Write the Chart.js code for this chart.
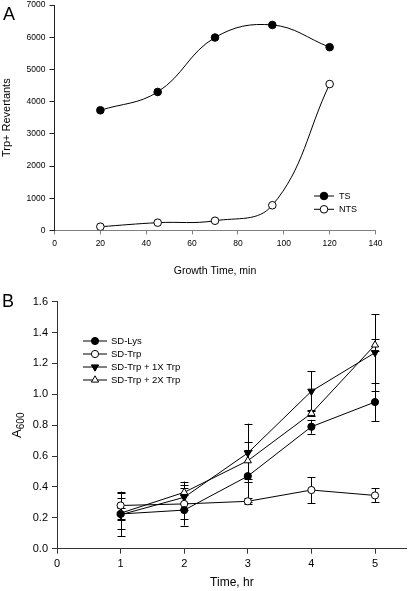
<!DOCTYPE html>
<html><head><meta charset="utf-8">
<script src="https://cdn.jsdelivr.net/npm/chart.js@4/dist/chart.umd.min.js"></script>
<style>
html,body{margin:0;padding:0;background:#fff;overflow:hidden}
#wrap{position:relative;width:412px;height:591px;background:#fff}
canvas{position:absolute;left:0}
#cA{top:0}
#cB{top:290px}
</style></head><body>
<div id="wrap"><canvas id="cA" width="412" height="290"></canvas><canvas id="cB" width="412" height="301"></canvas></div>
<script>
// ---------- Panel A data ----------
const growthTimes = [20, 45, 70, 95, 120];
const tsRevertants = [3730, 4300, 5990, 6380, 5690];
const ntsRevertants = [115, 240, 300, 780, 4545];

// ---------- Panel B data ----------
const timesHr = [1, 2, 3, 4, 5];
const sdLys = [0.225, 0.25, 0.47, 0.79, 0.95];
const sdLysErr = [0.04, 0.10, 0.17, 0.045, 0.125];
const sdTrp = [0.28, 0.29, 0.307, 0.38, 0.345];
const sdTrpErr = [0.09, 0.10, 0.02, 0.084, 0.045];
const sdTrp1x = [0.22, 0.333, 0.62, 1.02, 1.27];
const sdTrp1xErr = [0.14, 0.08, 0.19, 0.13, 0.25];
const sdTrp2x = [0.23, 0.365, 0.57, 0.877, 1.32];
const sdTrp2xErr = [0.10, 0.07, 0.12, 0.02, 0.04];

const FONT = "'Liberation Sans', Arial, sans-serif";
Chart.defaults.font.family = FONT;
Chart.defaults.font.weight = 'normal';
Chart.defaults.color = '#000';
Chart.defaults.animation = false;

function pts(xs, ys) { return xs.map((x, i) => ({x: x, y: ys[i]})); }

function drawMarker(ctx, ds, x, y) {
  ctx.save();
  ctx.fillStyle = ds.pointBackgroundColor;
  ctx.strokeStyle = ds.pointBorderColor;
  ctx.lineWidth = ds.pointBorderWidth;
  const opts = {pointStyle: ds.pointStyle, radius: ds.pointRadius, rotation: ds.pointRotation || 0, borderWidth: ds.pointBorderWidth};
  if (Chart.helpers && Chart.helpers.drawPoint) {
    Chart.helpers.drawPoint(ctx, opts, x, y);
  } else {
    ctx.beginPath(); ctx.arc(x, y, ds.pointRadius, 0, Math.PI * 2); ctx.fill(); ctx.stroke();
  }
  ctx.restore();
}

// legend with line + marker
const lineLegend = {
  id: 'lineLegend',
  afterDraw(chart, args, o) {
    if (!o || !o.display) return;
    const ctx = chart.ctx;
    chart.data.datasets.forEach((ds, i) => {
      const y = o.y + i * o.gap;
      ctx.save();
      ctx.strokeStyle = '#000'; ctx.lineWidth = 1;
      ctx.beginPath(); ctx.moveTo(o.x - o.half, y); ctx.lineTo(o.x + o.half, y); ctx.stroke();
      ctx.restore();
      drawMarker(ctx, ds, o.x, y);
      ctx.save();
      ctx.fillStyle = '#000';
      ctx.font = o.fontSize + 'px ' + FONT;
      ctx.textBaseline = 'middle'; ctx.textAlign = 'left';
      ctx.fillText(ds.label, o.x + o.textGap, y + 0.5);
      ctx.restore();
    });
  }
};

// error bars through the scales
const errorBars = {
  id: 'errorBars',
  beforeDatasetsDraw(chart, args, o) {
    if (!o || !o.display) return;
    const ctx = chart.ctx, xs = chart.scales.x, ys = chart.scales.y;
    ctx.save();
    ctx.strokeStyle = '#000'; ctx.lineWidth = 1;
    chart.data.datasets.forEach(ds => {
      if (!ds.errors) return;
      ds.data.forEach((p, i) => {
        const e = ds.errors[i];
        const px = Math.round(xs.getPixelForValue(p.x)) + 0.5;
        const yt = ys.getPixelForValue(p.y + e), yb = ys.getPixelForValue(p.y - e);
        ctx.beginPath();
        ctx.moveTo(px, yt); ctx.lineTo(px, yb);
        ctx.moveTo(px - o.cap, Math.round(yt) + 0.5); ctx.lineTo(px + o.cap, Math.round(yt) + 0.5);
        ctx.moveTo(px - o.cap, Math.round(yb) + 0.5); ctx.lineTo(px + o.cap, Math.round(yb) + 0.5);
        ctx.stroke();
      });
    });
    ctx.restore();
  }
};

// panel letters and special titles
const extraText = {
  id: 'extraText',
  afterDraw(chart, args, o) {
    if (!o) return;
    const ctx = chart.ctx;
    ctx.save();
    ctx.fillStyle = '#000';
    ctx.textBaseline = 'alphabetic'; ctx.textAlign = 'left';
    ctx.font = '18px ' + FONT;
    ctx.fillText(o.letter, o.lx, o.ly);
    if (o.subTitle) {
      // rotated "A600" with subscript
      const cy = (chart.chartArea.top + chart.chartArea.bottom) / 2;
      ctx.translate(o.subTitle.x, cy);
      ctx.rotate(-Math.PI / 2);
      ctx.font = '13px ' + FONT;
      const w1 = ctx.measureText(o.subTitle.main).width;
      ctx.font = '10px ' + FONT;
      const w2 = ctx.measureText(o.subTitle.sub).width;
      const start = -(w1 + w2) / 2;
      ctx.font = '13px ' + FONT;
      ctx.fillText(o.subTitle.main, start, 0);
      ctx.font = '10px ' + FONT;
      ctx.fillText(o.subTitle.sub, start + w1, 3);
    }
    ctx.restore();
  }
};

Chart.register(lineLegend, errorBars, extraText);

function zeroPad(s) { s.paddingTop = 0; s.paddingBottom = 0; s.paddingLeft = 0; s.paddingRight = 0; }

// ---------- Chart A ----------
new Chart(document.getElementById('cA'), {
  type: 'line',
  data: {
    datasets: [
      {label: 'TS', data: pts(growthTimes, tsRevertants), borderColor: '#000', borderWidth: 1, tension: 0.4,
       pointStyle: 'circle', pointRadius: 3.8, pointBackgroundColor: '#000', pointBorderColor: '#000', pointBorderWidth: 1, fill: false},
      {label: 'NTS', data: pts(growthTimes, ntsRevertants), borderColor: '#000', borderWidth: 1, tension: 0.4,
       pointStyle: 'circle', pointRadius: 3.8, pointBackgroundColor: '#fff', pointBorderColor: '#000', pointBorderWidth: 1, fill: false}
    ]
  },
  options: {
    responsive: false, devicePixelRatio: 1,
    layout: {padding: {left: 0, right: 36.5, top: 5, bottom: 0}},
    plugins: {
      legend: {display: false}, tooltip: {enabled: false},
      lineLegend: {display: true, x: 324, y: 196, gap: 13.3, half: 10, textGap: 15, fontSize: 9},
      errorBars: {display: false},
      extraText: {letter: 'A', lx: 3, ly: 20}
    },
    scales: {
      x: {type: 'linear', min: 0, max: 140,
          ticks: {stepSize: 20, font: {size: 8.5}, color: '#000', padding: 4, maxRotation: 0, callback: v => String(v)},
          grid: {display: true, drawOnChartArea: false, tickLength: 4, color: '#808080'},
          border: {display: true, color: '#808080', width: 1},
          title: {display: true, text: 'Growth Time, min', font: {size: 10.5, weight: 'normal'}, color: '#000', padding: {top: 0, bottom: 13}},
          afterFit(s) { s.height = 59.6; zeroPad(s); }},
      y: {type: 'linear', min: 0, max: 7000,
          ticks: {stepSize: 1000, font: {size: 8.5}, color: '#000', padding: 4, callback: v => String(v)},
          grid: {display: true, drawOnChartArea: false, tickLength: 5, color: '#222'},
          border: {display: true, color: '#222', width: 1},
          title: {display: true, text: 'Trp+ Revertants', font: {size: 11, weight: 'normal'}, color: '#000', padding: {top: 0, bottom: 0}},
          afterFit(s) { s.width = 54.5; zeroPad(s); }}
    }
  }
});

// ---------- Chart B ----------
function dsB(label, values, errs, style, rot, fillCol, r) {
  return {label: label, data: pts(timesHr, values), errors: errs, borderColor: '#000', borderWidth: 1, tension: 0,
    pointStyle: style, pointRotation: rot, pointRadius: r, pointBackgroundColor: fillCol, pointBorderColor: '#000', pointBorderWidth: 1, fill: false};
}
new Chart(document.getElementById('cB'), {
  type: 'line',
  data: {
    datasets: [
      dsB('SD-Lys', sdLys, sdLysErr, 'circle', 0, '#000', 3.6),
      dsB('SD-Trp', sdTrp, sdTrpErr, 'circle', 0, '#fff', 3.6),
      dsB('SD-Trp + 1X Trp', sdTrp1x, sdTrp1xErr, 'triangle', 180, '#000', 4.2),
      dsB('SD-Trp + 2X Trp', sdTrp2x, sdTrp2xErr, 'triangle', 0, '#fff', 4.2)
    ]
  },
  options: {
    responsive: false, devicePixelRatio: 1,
    layout: {padding: {left: 0, right: 2, top: 11.7, bottom: 0}},
    plugins: {
      legend: {display: false}, tooltip: {enabled: false},
      lineLegend: {display: true, x: 95, y: 51, gap: 13, half: 12, textGap: 16, fontSize: 9.5},
      errorBars: {display: true, cap: 4},
      extraText: {letter: 'B', lx: 2, ly: 17, subTitle: {x: 21, main: 'A', sub: '600'}}
    },
    scales: {
      x: {type: 'linear', min: 0, max: 5.5,
          ticks: {stepSize: 1, includeBounds: false, font: {size: 11}, color: '#000', padding: 4, maxRotation: 0},
          afterBuildTicks(s) { s.ticks = s.ticks.filter(t => Number.isInteger(t.value)); },
          grid: {display: true, drawOnChartArea: false, tickLength: 5, color: '#333'},
          border: {display: true, color: '#333', width: 1},
          title: {display: true, text: 'Time, hr', font: {size: 12, weight: 'normal'}, color: '#000', padding: {top: 0, bottom: 1}},
          afterFit(s) { s.height = 42.3; zeroPad(s); }},
      y: {type: 'linear', min: 0, max: 1.6,
          ticks: {stepSize: 0.2, font: {size: 11}, color: '#000', padding: 4, callback: v => v.toFixed(1)},
          grid: {display: true, drawOnChartArea: false, tickLength: 5, color: '#333'},
          border: {display: true, color: '#333', width: 1},
          afterFit(s) { s.width = 57; zeroPad(s); }}
    }
  }
});
</script>
</body></html>
